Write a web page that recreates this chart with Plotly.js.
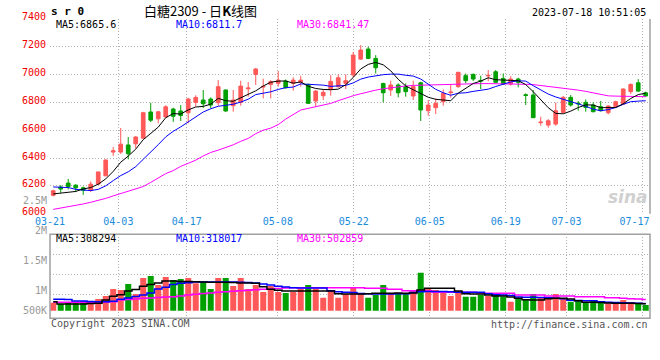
<!DOCTYPE html>
<html><head><meta charset="utf-8">
<script src="https://cdn.plot.ly/plotly-3.0.1.min.js"></script>
<style>html,body{margin:0;padding:0;background:#fff}#chart{width:660px;height:360px}</style>
</head><body><div id="chart"></div>
<script>
// ---- data ----
const openP=[6132,6192,6220,6205,6186,6167,6213,6272,6443,6443,6494,6502,6543,6731,6682,6695,6752,6738,6725,6800,6817,6824,6798,6889,6776,6800,6898,7001,6910,6929,6937,6953,6937,6944,6929,6810,6848,6893,6913,6937,6997,7111,7183,7116,6936,6889,6925,6913,6846,6941,6740,6762,6805,6870,6913,6992,7001,6958,6990,7020,6972,6932,6968,6855,6853,6654,6637,6644,6728,6836,6795,6800,6781,6769,6726,6769,6788,6877,6941,6869];
const highP=[6172,6205,6250,6212,6195,6232,6302,6390,6480,6616,6551,6558,6732,6797,6740,6779,6762,6781,6833,6851,6889,6836,6960,6893,6889,6956,6946,7047,6970,6960,7025,6965,6980,6991,6935,6889,6896,6996,7001,7001,7162,7212,7200,7140,6941,6956,6937,6937,6956,6948,6817,6829,6893,6925,7020,7008,7008,6992,7032,7032,7008,6989,6977,6865,6889,6697,6680,6798,6846,6853,6810,6821,6800,6810,6778,6812,6901,6937,6967,6877];
const lowP=[6125,6150,6175,6155,6135,6155,6210,6270,6415,6430,6391,6470,6540,6658,6650,6690,6660,6666,6650,6770,6760,6757,6776,6733,6733,6776,6841,6925,6829,6829,6913,6900,6884,6913,6790,6769,6817,6848,6905,6896,6980,7105,7111,7008,6800,6846,6836,6841,6817,6666,6704,6716,6776,6834,6905,6937,6953,6896,6953,6941,6925,6920,6908,6781,6688,6632,6618,6632,6725,6770,6740,6733,6728,6735,6714,6765,6785,6860,6877,6841];
const closeP=[6165,6177,6195,6186,6168,6212,6300,6386,6452,6500,6431,6551,6726,6672,6732,6768,6700,6706,6824,6836,6790,6781,6913,6738,6817,6917,6903,7040,6915,6949,6960,6905,6960,6960,6793,6881,6872,6951,6977,6956,7140,7176,7116,7049,6869,6925,6869,6877,6913,6745,6781,6793,6865,6874,7016,6956,6968,6953,6994,6944,6932,6968,6944,6850,6690,6658,6668,6740,6836,6781,6790,6764,6733,6740,6774,6805,6896,6929,6881,6846];
const ma5=[6142,6148,6152,6160,6178,6188,6212,6250,6304,6370,6414,6464,6532,6576,6622,6690,6720,6716,6746,6767,6771,6787,6829,6812,6808,6833,6858,6883,6918,6945,6953,6954,6938,6947,6916,6900,6893,6891,6895,6927,6979,7040,7073,7087,7070,7027,6966,6918,6891,6866,6837,6822,6819,6812,6866,6901,6936,6953,6977,6963,6958,6958,6956,6928,6877,6822,6762,6721,6718,6737,6763,6782,6781,6762,6760,6763,6790,6828,6856,6866];
const ma10=[6192,6190,6188,6175,6168,6166,6175,6200,6238,6274,6301,6338,6391,6440,6496,6552,6592,6624,6661,6695,6731,6754,6772,6779,6787,6802,6823,6856,6865,6876,6893,6906,6910,6933,6930,6927,6924,6915,6921,6922,6940,6967,6982,6991,6999,7003,7003,6995,6989,6968,6932,6894,6869,6851,6866,6869,6879,6886,6895,6914,6930,6947,6955,6953,6920,6890,6860,6839,6823,6807,6793,6772,6751,6740,6748,6763,6786,6805,6809,6812];
const ma30=[6031,6040,6050,6060,6070,6082,6095,6110,6128,6145,6160,6178,6195,6225,6255,6288,6310,6340,6362,6385,6415,6440,6457,6475,6495,6520,6541,6575,6600,6615,6640,6680,6715,6745,6757,6769,6780,6793,6812,6831,6848,6862,6876,6888,6898,6906,6912,6918,6922,6924,6926,6928,6930,6931,6932,6933,6934,6935,6935,6935,6934,6933,6932,6930,6928,6922,6915,6908,6902,6896,6888,6879,6869,6857,6847,6845,6845,6845,6845,6841];
// volume in thousands of lots
const volK=[362,301,392,332,437,437,527,662,977,932,1202,752,1472,1562,1157,1517,1382,1427,1472,1232,1292,977,1472,1472,1112,1472,977,1157,842,1112,842,797,842,977,1157,977,587,887,587,752,1052,752,587,707,1157,797,752,752,887,1712,1022,932,887,662,887,632,632,707,662,707,632,407,557,527,752,617,527,752,557,407,452,362,437,392,332,332,482,392,332,257];
const volMa5K=[400,300,302,302,305,320,335,480,650,720,880,950,1100,1180,1240,1330,1340,1310,1310,1300,1290,1280,1275,1275,1270,1250,1240,1230,1080,960,920,890,880,880,880,880,885,880,760,755,750,750,760,780,785,785,790,785,800,930,1010,1010,1010,1005,890,760,750,750,700,665,660,620,560,490,480,485,540,560,560,520,450,380,375,370,340,335,330,330,320,308];
const volMa10K=[510,510,505,440,430,410,405,405,420,510,570,640,710,800,970,1050,1180,1230,1260,1290,1295,1295,1295,1290,1285,1275,1265,1240,1200,1150,1100,1060,1030,1020,1020,1020,1020,900,850,830,820,770,760,755,755,755,760,760,820,850,860,860,860,850,830,825,830,830,760,720,700,680,620,600,600,590,580,560,540,470,460,450,445,400,380,370,360,350,335,318];
const volMa30K=[377,377,378,378,380,380,382,385,400,480,500,530,557,575,595,615,632,665,700,740,770,800,830,855,872,895,920,940,960,980,1000,1020,1035,1037,1037,1037,1037,1037,1037,1037,1037,1037,1007,1007,1007,962,962,902,902,902,902,827,827,827,827,827,827,800,782,782,782,782,707,707,707,707,662,662,662,662,632,632,632,632,587,587,560,542,520,503];
const tickIdx=[0,9,18,30,40,50,60,68,78];
const tickText=['03-21','04-03','04-17','05-08','05-22','06-05','06-19','07-03','07-17'];
const priceTicks=[6000,6200,6400,6600,6800,7000,7200,7400];
const volLabelVals=[2500000,2000000,1500000,1000000,666667];
const volLabelText=['2.5M','2M','1.5M','1M','500K'];
const legendPrice=['MA5:6865.6','MA10:6811.7','MA30:6841.47'];
const legendVol=['MA5:308294','MA10:318017','MA30:502859'];

// ---- layout helpers ----
const W=660,H=360;
const px=x=>x/W, py=y=>1-y/H;
const RED='#ff5858', GREEN='#00a000', GRID='#b0b0b0', MONO='DejaVu Sans Mono';
const n=closeP.length;
const idx=[...Array(n).keys()];
const XR=[-0.43,n-0.43];
const gridPos=tickIdx.map(i=>i*n/(n-1)+XR[0]);
const labelPos=gridPos.map(v=>Math.min(v,(634.5-50)/7.5+XR[0]));
const volColors=idx.map(i=>closeP[i]>=openP[i]?RED:GREEN);
const K=a=>a.map(v=>v*1000);

const traces=[
 {type:'candlestick',x:idx,open:openP,high:highP,low:lowP,close:closeP,xaxis:'x',yaxis:'y',
  increasing:{line:{color:RED,width:1},fillcolor:RED},decreasing:{line:{color:GREEN,width:1},fillcolor:GREEN},
  whiskerwidth:0,hoverinfo:'skip'},
 {type:'scatter',mode:'lines',x:idx,y:ma30,line:{color:'#ff00ff',width:1},xaxis:'x',yaxis:'y',hoverinfo:'skip'},
 {type:'scatter',mode:'lines',x:idx,y:ma10,line:{color:'#0000ff',width:1},xaxis:'x',yaxis:'y',hoverinfo:'skip'},
 {type:'scatter',mode:'lines',x:idx,y:ma5,line:{color:'#000000',width:1},xaxis:'x',yaxis:'y',hoverinfo:'skip'},
 {type:'bar',x:idx,y:K(volK),width:0.8,marker:{color:volColors,line:{width:0}},xaxis:'x',yaxis:'y2',hoverinfo:'skip'},
 {type:'scatter',mode:'lines',x:idx,y:K(volMa30K),line:{color:'#ff00ff',width:1.5,shape:'hvh'},xaxis:'x',yaxis:'y2',hoverinfo:'skip'},
 {type:'scatter',mode:'lines',x:idx,y:K(volMa10K),line:{color:'#0000ff',width:1.5,shape:'hvh'},xaxis:'x',yaxis:'y2',hoverinfo:'skip'},
 {type:'scatter',mode:'lines',x:idx,y:K(volMa5K),line:{color:'#000000',width:1.5,shape:'hvh'},xaxis:'x',yaxis:'y2',hoverinfo:'skip'},
 {type:'scatter',mode:'markers',x:[0],y:[null],xaxis:'x3',yaxis:'y',hoverinfo:'skip'},
 {type:'scatter',mode:'markers',x:[0],y:[null],xaxis:'x4',yaxis:'y4',hoverinfo:'skip'}
];

const gridStyle={showgrid:true,gridcolor:GRID,gridwidth:1,griddash:'1px,2px',zeroline:false,showline:false,ticks:'',fixedrange:true};
const mono=(size,color,extra)=>Object.assign({family:MONO,size:size,color:color},extra||{});

function ann(text,x,y,xa,color,font){
  return {text:text,xref:'paper',yref:'paper',x:px(x),y:py(y),xanchor:xa,yanchor:'middle',showarrow:false,
    font:font||mono(10,color)};
}
const legColors=['#000000','#0000ff','#ff00ff'];
const legX=[54,174,295];

const layout={
 width:W,height:H,margin:{l:0,r:0,t:0,b:0},paper_bgcolor:'#ffffff',plot_bgcolor:'rgba(0,0,0,0)',
 showlegend:false,hovermode:false,dragmode:false,boxgap:0.3,
 title:{text:'白糖2309 - 日<b>K</b>线图',x:px(200.5),xanchor:'center',xref:'paper',y:py(11),yanchor:'middle',yref:'paper',
   font:{family:'Noto Sans CJK SC',size:13,color:'#000'}},
 xaxis:Object.assign({},gridStyle,{domain:[px(50),px(650)],range:XR,anchor:'y',tickvals:gridPos,showticklabels:false,rangeslider:{visible:false}}),
 xaxis3:{overlaying:'x',anchor:'y',side:'bottom',range:XR,tickvals:labelPos,ticktext:tickText,showgrid:false,zeroline:false,showline:false,ticks:'',
   tickfont:mono(10,'#1a8cdc'),ticklabelstandoff:0,fixedrange:true},
 xaxis4:{domain:[px(50),px(650)],range:XR,anchor:'y4',visible:false,fixedrange:true},
 yaxis:Object.assign({},gridStyle,{domain:[py(213.7),py(18.9)],range:[6000,7400],anchor:'x',tickvals:priceTicks,
   tickfont:mono(10,'#f00000'),ticklabelshift:-2,ticklabelstandoff:3}),
 yaxis2:Object.assign({},gridStyle,{domain:[py(318.3),py(234.3)],range:[-343000,3437000],anchor:'x',tickvals:[706500,1606500,2506500],showticklabels:false}),
 yaxis4:{domain:[py(320),py(190)],range:[511667,2678333],anchor:'free',position:px(50),side:'left',tickvals:volLabelVals,ticktext:volLabelText,
   showgrid:false,zeroline:false,showline:false,ticks:'',tickfont:mono(10,'#999999'),ticklabelstandoff:3,ticklabelshift:-2.5,fixedrange:true},
 shapes:[
  {type:'rect',xref:'paper',yref:'paper',x0:px(50),x1:px(650),y0:py(318.3),y1:py(234.3),line:{color:'#a0a0a0',width:1.5}},
  {type:'line',xref:'paper',yref:'paper',x0:px(650),x1:px(650),y0:py(213.7),y1:py(18.9),line:{color:'#a0a0a0',width:1.5}}
 ],
 annotations:[
  ann('s r 0',49,11.5,'left','#000',mono(11,'#000',{weight:'bold'})),
  ann('2023-07-18 10:51:05',648,12.2,'right','#000'),
  ...legendPrice.map((t,i)=>ann(t,legX[i],24.5,'left',legColors[i])),
  ...legendVol.map((t,i)=>ann(t,legX[i],238.5,'left',legColors[i])),
  ann('Copyright 2023 SINA.COM',49,323.7,'left','#555555'),
  ann('http://finance.sina.com.cn',650,324,'right','#555555'),
  ann('sina',650,197,'right','#cccccc',{family:'DejaVu Sans',size:17,color:'#d0d0d0',weight:'bold',style:'italic'})
 ]
};
Plotly.newPlot('chart',traces,layout,{staticPlot:true,displayModeBar:false});
</script></body></html>
